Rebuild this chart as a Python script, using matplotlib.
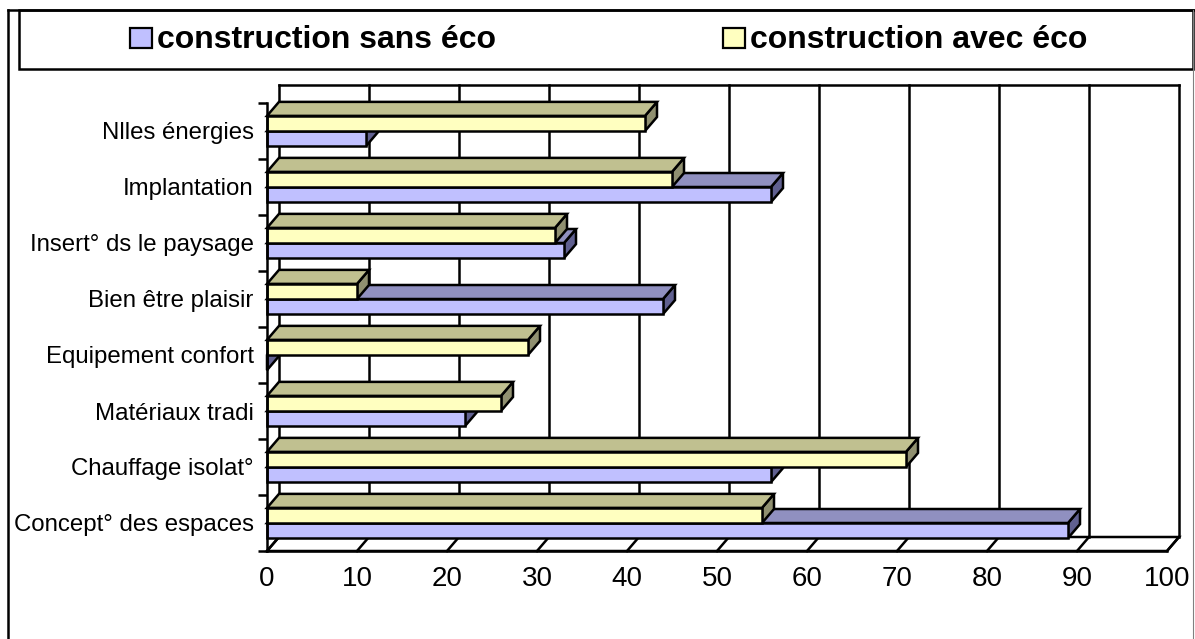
import numpy as np
import matplotlib.pyplot as plt
from matplotlib.patches import Polygon, Rectangle
from matplotlib.lines import Line2D

plt.rcParams['font.family'] = ['Liberation Sans', 'DejaVu Sans']

# data (bottom category first)
categories = ["Concept° des espaces", "Chauffage isolat°", "Matériaux tradi",
              "Equipement confort", "Bien être plaisir", "Insert° ds le paysage",
              "Implantation", "Nlles énergies"]
sans_eco = [89, 56, 22, 0, 44, 33, 56, 11]
avec_eco = [55, 71, 26, 29, 10, 32, 45, 42]
series_names = ["construction sans éco", "construction avec éco"]
x_ticks = list(range(0, 101, 10))

# colours: front, top, side
col_sans = ("#C0C0FF", "#9090C0", "#606090")
col_avec = ("#FFFFC0", "#C0C090", "#909070")

W, H = 1195, 639
fig = plt.figure(figsize=(W / 100, H / 100), dpi=100)

def fx(px):
    return px / W

def fy(py):
    return 1 - py / H

# outer frame and legend box (figure coordinates)
fig.add_artist(Line2D([fx(8), fx(8)], [fy(10), fy(639)], color='black', lw=1.8))
fig.add_artist(Line2D([fx(8), fx(1195)], [fy(10), fy(10)], color='black', lw=1.8))
fig.add_artist(Line2D([fx(1193), fx(1193)], [fy(10), fy(639)], color='#808080', lw=0.8))
fig.add_artist(Rectangle((fx(19), fy(69)), fx(1193) - fx(19), fy(10) - fy(69),
                         fill=False, edgecolor='black', lw=1.8))

leg_x = [130, 723]
for name, cols, lx in zip(series_names, [col_sans, col_avec], leg_x):
    fig.add_artist(Rectangle((fx(lx), fy(48)), fx(22), 20 / H, facecolor=cols[0],
                             edgecolor='black', lw=1.6))
    fig.text(fx(lx + 27), fy(48), name, fontsize=23, fontweight='bold',
             va='baseline', ha='left')

# axes: x 0..100 -> front plane, y 0..8 -> category bands
ax = fig.add_axes([fx(267), fy(551), fx(1167) - fx(267), (551 - 103) / H])
ax.set_xlim(0, 100)
ax.set_ylim(0, len(categories))

DX = 12 / 9.0      # depth offset in x units
DY = 14 / 56.0     # depth offset in category units
TOP = (551 - 85) / 56.0
LW = 1.8

# floor and back wall
floor = Polygon([(0, 0), (100, 0), (100 + DX, DY), (DX, DY)], closed=True,
                facecolor='white', edgecolor='black', lw=LW, clip_on=False, zorder=1)
ax.add_patch(floor)
for k in x_ticks:
    ax.plot([k, k + DX], [0, DY], color='black', lw=LW, clip_on=False, zorder=1)
    ax.plot([k + DX, k + DX], [DY, TOP], color='black', lw=LW, clip_on=False, zorder=1)
ax.plot([DX, 100 + DX], [TOP, TOP], color='black', lw=LW, clip_on=False, zorder=1)

y = np.arange(len(categories))
h = 0.27
y_sans = y + 0.23
y_avec = y + 0.5

def draw_3d(vals, y0s, cols, z):
    for v, y0 in zip(vals, y0s):
        y1 = y0 + h
        side = Polygon([(v, y0), (v, y1), (v + DX, y1 + DY), (v + DX, y0 + DY)],
                       closed=True, facecolor=cols[2], edgecolor='black', lw=LW,
                       clip_on=False, zorder=z)
        top = Polygon([(0, y1), (v, y1), (v + DX, y1 + DY), (DX, y1 + DY)],
                      closed=True, facecolor=cols[1], edgecolor='black', lw=LW,
                      clip_on=False, zorder=z)
        ax.add_patch(side)
        ax.add_patch(top)
    ax.barh(y0s, vals, height=h, left=0, align='edge', color=cols[0],
            edgecolor='black', lw=LW, zorder=z + 0.5, clip_on=False)

draw_3d(sans_eco, y_sans, col_sans, 2)
draw_3d(avec_eco, y_avec, col_avec, 3)

for s in ['top', 'right']:
    ax.spines[s].set_visible(False)
for s in ['left', 'bottom']:
    ax.spines[s].set_linewidth(LW)
    ax.spines[s].set_zorder(5)

ax.set_yticks(np.arange(len(categories) + 1))
ax.set_yticklabels([])
ax.set_yticks(y + 0.5, minor=True)
ax.set_yticklabels(categories, minor=True, fontsize=17.3)
ax.tick_params(axis='y', which='major', length=6.5, width=LW)
ax.tick_params(axis='y', which='minor', length=0, pad=9.5)

ax.set_xticks(x_ticks)
ax.set_xticklabels([str(t) for t in x_ticks], fontsize=20)
ax.tick_params(axis='x', length=0, pad=11)
ax.patch.set_alpha(0)

fig.savefig("out.png", dpi=100)
